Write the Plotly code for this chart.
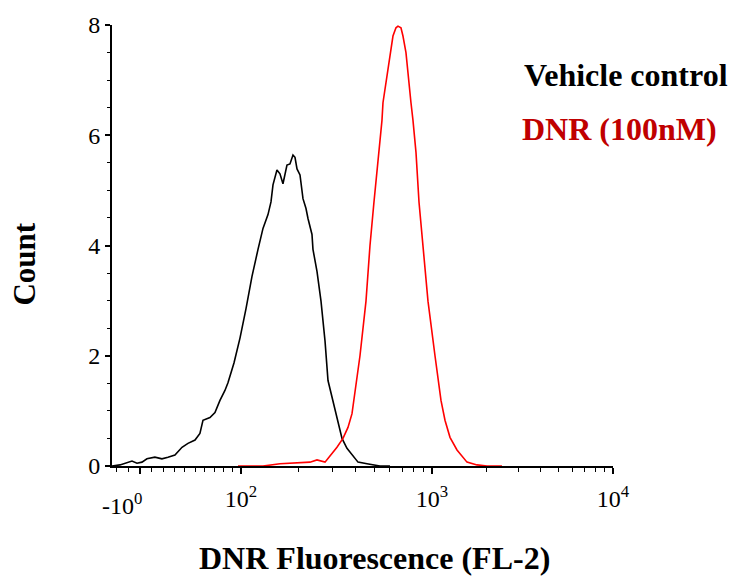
import math
import plotly.graph_objects as go

# ---- data ----
vehicle_fl = [-23.5, -16.8, -6.7, -2.5, 1.7, 5.9, 12.8, 19.0, 24.4, 30.8, 37.4, 43.1, 50.0, 54.9,
              58.0, 65.2, 70.5, 75.9, 81.4, 84.8, 91.7, 98.8, 106.2, 114.2, 122.8, 130.4, 138.5,
              143.6, 147.1, 154.3, 160.0, 165.9, 174.1, 180.5, 187.2, 191.8, 196.5, 203.7, 211.2,
              219.0, 224.3, 235.4, 238.2, 250.0, 262.4, 275.4, 285.5, 303.1, 322.0, 338.0, 358.9,
              381.3, 410.0, 456.8, 491.1, 534.3, 602.6]
vehicle_count = [0.0, 0.02, 0.09, 0.05, 0.07, 0.13, 0.16, 0.13, 0.16, 0.20, 0.34, 0.41, 0.47, 0.59,
                 0.83, 0.88, 0.97, 1.19, 1.37, 1.51, 1.87, 2.32, 2.85, 3.44, 3.93, 4.31, 4.56,
                 4.79, 5.10, 5.37, 5.30, 5.12, 5.46, 5.48, 5.64, 5.60, 5.39, 5.28, 4.85,
                 4.67, 4.49, 4.20, 3.93, 3.53, 2.99, 2.27, 1.55, 1.19, 0.83, 0.50, 0.32,
                 0.20, 0.07, 0.04, 0.02, 0.0, 0.0]

dnr_fl = [96.4, 107.5, 130.4, 160.0, 196.5, 229.8, 250.0, 275.4, 288.9, 318.1, 342.0, 363.3, 381.3,
          395.3, 404.9, 419.8, 451.3, 473.6, 496.9, 527.9, 547.2, 553.9, 581.2, 602.6, 624.8,
          647.8, 663.6, 688.0, 704.8, 730.8, 748.6, 776.3, 795.2, 824.6, 855.0, 897.3, 953.0,
          1038.9, 1121.3, 1179.8, 1257.4, 1374.5, 1561.0, 1772.7, 2013.2, 2436.1]
dnr_count = [0.0, 0.0, 0.0, 0.04, 0.05, 0.07, 0.11, 0.07, 0.16, 0.34, 0.50, 0.70, 0.95,
             1.32, 1.55, 2.00, 2.99, 4.00, 4.79, 5.69, 6.27, 6.59, 7.08, 7.44, 7.80,
             7.95, 7.98, 7.95, 7.80, 7.50, 7.08, 6.59, 6.27, 5.69, 4.79, 4.00, 2.99,
             2.00, 1.19, 0.83, 0.52, 0.29, 0.07, 0.02, 0.0, 0.0]

x_major_vals = [0, 100, 1000, 10000]
x_major_text = [" ", "10<sup>2</sup>", "10<sup>3</sup>", "10<sup>4</sup>"]
x_minor_vals = [-20, -10, 10, 20, 30, 40, 50, 60, 70, 80, 90,
                200, 300, 400, 500, 600, 700, 800, 900,
                2000, 3000, 4000, 5000, 6000, 7000, 8000, 9000]
y_major_vals = [0, 2, 4, 6, 8]
x_min_val, x_max_val = -23.5, 10000


# ---- display transform (linear near zero, logarithmic above 100) ----
def T(v):
    if v >= 1000:
        return 432 + 181 * (math.log10(v) - 3)
    if v >= 100:
        return 241 + 191 * (math.log10(v) - 2)
    if v >= 0:
        u = v / 100.0
        return 140 + 101 * (1.18 * u - 0.18 * u * u)
    return 140 + 1.19 * v


SERIF = "Liberation Serif, Times New Roman, serif"

fig = go.Figure()
fig.add_trace(go.Scatter(x=[T(v) for v in vehicle_fl], y=vehicle_count, mode="lines",
                         line=dict(color="#000000", width=1.6), showlegend=False))
fig.add_trace(go.Scatter(x=[T(v) for v in dnr_fl], y=dnr_count, mode="lines",
                         line=dict(color="#ff0000", width=1.6), showlegend=False))

fig.update_layout(
    width=734, height=576,
    margin=dict(l=112, r=121, t=22, b=110),
    plot_bgcolor="white", paper_bgcolor="white",
    font=dict(family=SERIF, color="black"),
    showlegend=False,
    xaxis=dict(
        range=[T(x_min_val), T(x_max_val)], showgrid=False, zeroline=False,
        showline=True, linecolor="black", linewidth=2,
        tickmode="array", tickvals=[T(v) for v in x_major_vals], ticktext=x_major_text,
        ticks="outside", ticklen=6, tickwidth=1.5, tickcolor="black",
        ticklabelstandoff=4,
        tickfont=dict(family=SERIF, size=24, color="black"),
        minor=dict(tickmode="array", tickvals=[T(v) for v in x_minor_vals],
                   ticks="outside", ticklen=4, tickwidth=1.2, tickcolor="black", showgrid=False),
    ),
    yaxis=dict(
        range=[0, 8], showgrid=False, zeroline=False,
        showline=True, linecolor="black", linewidth=2,
        tickmode="array", tickvals=y_major_vals,
        ticks="outside", ticklen=5, tickwidth=1.5, tickcolor="black",
        tickfont=dict(family=SERIF, size=24, color="black"),
        minor=dict(dtick=0.5, ticks="outside", ticklen=3, tickwidth=1.2,
                   tickcolor="black", showgrid=False),
    ),
)

annotations = [
    dict(text="-10<sup>0</sup>", x=T(0), xref="x", xanchor="right", xshift=4,
         y=-0.087, yref="paper", yanchor="middle", showarrow=False,
         font=dict(family=SERIF, size=24, color="black")),
    dict(text="<b>DNR Fluorescence (FL-2)</b>", x=0.524, xref="paper", xanchor="center",
         y=-0.2095, yref="paper", yanchor="middle", showarrow=False,
         font=dict(family=SERIF, size=32, color="black")),
    dict(text="<b>Count</b>", x=-0.1737, xref="paper", xanchor="center",
         y=0.459, yref="paper", yanchor="middle", textangle=-90, showarrow=False,
         font=dict(family=SERIF, size=31, color="black")),
    dict(text="<b>Vehicle control</b>", x=0.818, xref="paper", xanchor="left",
         y=0.887, yref="paper", yanchor="middle", showarrow=False,
         font=dict(family=SERIF, size=32, color="black")),
    dict(text="<b>DNR (100nM)</b>", x=0.814, xref="paper", xanchor="left",
         y=0.764, yref="paper", yanchor="middle", showarrow=False,
         font=dict(family=SERIF, size=32, color="#c00000")),
]
fig.update_layout(annotations=annotations)

fig.write_html("out.html")
